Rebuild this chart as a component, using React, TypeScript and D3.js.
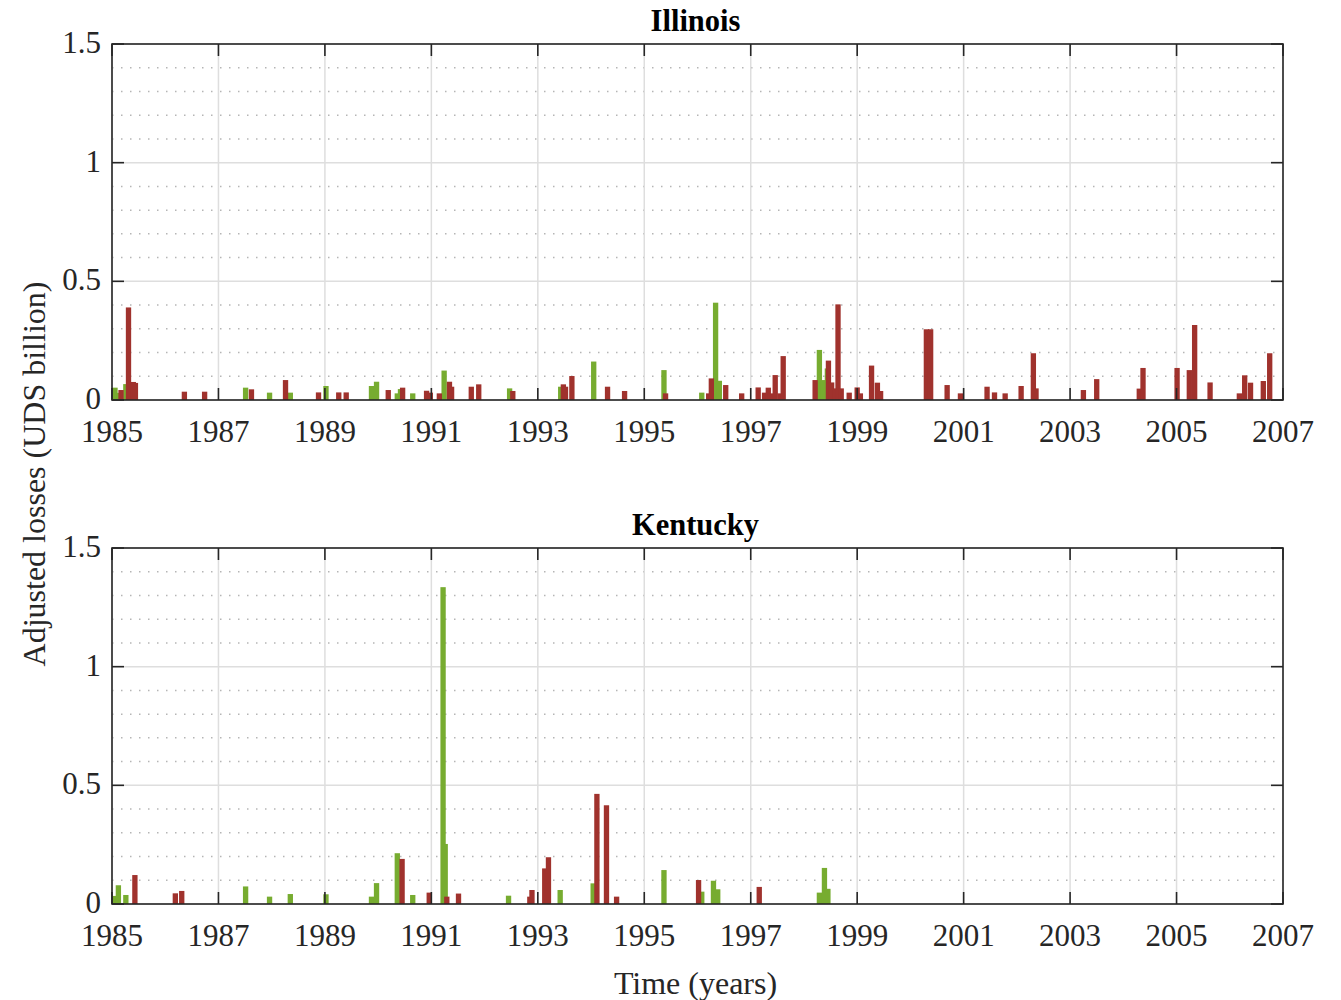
import React from "react";
import * as d3 from "d3";

// Illinois – red series (date in decimal years, loss in UDS billion)
const ilRedDates = [1985.17, 1985.31, 1985.40, 1985.44, 1986.36, 1986.74, 1987.62, 1988.26, 1988.88, 1989.26, 1989.40, 1990.19, 1990.46, 1990.91, 1990.98, 1991.15, 1991.34, 1991.38, 1991.75, 1991.89, 1992.53, 1993.48, 1993.52, 1993.64, 1994.31, 1994.63, 1995.40, 1996.21, 1996.26, 1996.53, 1996.83, 1997.14, 1997.26, 1997.33, 1997.37, 1997.46, 1997.55, 1997.61, 1998.21, 1998.46, 1998.52, 1998.59, 1998.64, 1998.70, 1998.85, 1999.00, 1999.06, 1999.27, 1999.38, 1999.44, 2000.30, 2000.38, 2000.69, 2000.94, 2001.44, 2001.58, 2001.78, 2002.08, 2002.31, 2002.36, 2003.25, 2003.50, 2004.30, 2004.37, 2005.01, 2005.24, 2005.34, 2005.63, 2006.18, 2006.28, 2006.39, 2006.63, 2006.75];
const ilRedValues = [0.042, 0.39, 0.076, 0.072, 0.035, 0.035, 0.045, 0.084, 0.032, 0.032, 0.032, 0.042, 0.052, 0.039, 0.031, 0.028, 0.077, 0.056, 0.056, 0.066, 0.038, 0.066, 0.056, 0.101, 0.056, 0.038, 0.028, 0.028, 0.091, 0.063, 0.028, 0.053, 0.031, 0.052, 0.028, 0.105, 0.028, 0.185, 0.084, 0.166, 0.074, 0.049, 0.403, 0.049, 0.031, 0.053, 0.028, 0.145, 0.073, 0.038, 0.298, 0.298, 0.063, 0.028, 0.056, 0.032, 0.028, 0.059, 0.197, 0.049, 0.042, 0.088, 0.048, 0.135, 0.135, 0.126, 0.316, 0.074, 0.028, 0.104, 0.073, 0.080, 0.197];

// Illinois – green series
const ilGreenDates = [1985.056, 1985.14, 1985.26, 1987.51, 1987.96, 1988.35, 1989.02, 1989.875, 1989.97, 1990.36, 1990.42, 1990.65, 1991.24, 1992.47, 1993.43, 1994.05, 1995.37, 1996.08, 1996.34, 1996.41, 1998.29, 1998.37, 1998.44];
const ilGreenValues = [0.052, 0.03, 0.067, 0.052, 0.031, 0.031, 0.059, 0.059, 0.077, 0.028, 0.046, 0.028, 0.124, 0.049, 0.056, 0.162, 0.126, 0.031, 0.41, 0.081, 0.211, 0.084, 0.133];

// Kentucky – red series
const kyRedDates = [1985.43, 1986.19, 1986.31, 1990.45, 1990.96, 1991.29, 1991.51, 1992.85, 1992.89, 1993.13, 1993.20, 1994.11, 1994.29, 1994.48, 1996.02, 1997.16];
const kyRedValues = [0.122, 0.045, 0.055, 0.19, 0.048, 0.031, 0.044, 0.031, 0.059, 0.15, 0.197, 0.464, 0.416, 0.031, 0.101, 0.072];

// Kentucky – green series
const kyGreenDates = [1985.05, 1985.12, 1985.26, 1987.51, 1987.96, 1988.35, 1989.02, 1989.875, 1989.97, 1990.36, 1990.65, 1991.22, 1991.26, 1992.45, 1993.42, 1994.04, 1995.37, 1996.08, 1996.30, 1996.38, 1998.29, 1998.385, 1998.45];
const kyGreenValues = [0.034, 0.079, 0.038, 0.074, 0.031, 0.042, 0.041, 0.031, 0.088, 0.214, 0.038, 1.335, 0.253, 0.035, 0.059, 0.087, 0.143, 0.052, 0.098, 0.062, 0.048, 0.152, 0.064];

const xTicks = [1985, 1987, 1989, 1991, 1993, 1995, 1997, 1999, 2001, 2003, 2005, 2007];
const yTicks = [0, 0.5, 1, 1.5];
const yMinor = [0.1, 0.2, 0.3, 0.4, 0.6, 0.7, 0.8, 0.9, 1.1, 1.2, 1.3, 1.4];
const panelTitles = ["Illinois", "Kentucky"];

const RED = "#A0322D";
const GREEN = "#77AC30";
const AXIS = "#262626";
const FONT = "'Liberation Serif', 'Times New Roman', serif";

const W = 1341;
const H = 1000;
const left = 112;
const right = 1283;
const panelTops = [44, 548];
const panelH = 356;
const barW = 0.1;

type PanelProps = {
  top: number;
  title: string;
  red: { d: number[]; v: number[] };
  green: { d: number[]; v: number[] };
};

function Panel({ top, title, red, green }: PanelProps) {
  const x = d3.scaleLinear().domain([1985, 2007]).range([left, right]);
  const y = d3.scaleLinear().domain([0, 1.5]).range([top + panelH, top]);
  const tick = 12;
  const bars = (s: { d: number[]; v: number[] }, color: string, key: string) =>
    s.d.map((dt, i) => {
      const x0 = x(dt - barW / 2);
      const x1 = x(dt + barW / 2);
      return (
        <rect
          key={key + i}
          x={x0}
          y={y(s.v[i])}
          width={x1 - x0}
          height={y(0) - y(s.v[i])}
          fill={color}
        />
      );
    });
  return (
    <g>
      {yMinor.map((t) => (
        <line
          key={"mn" + t}
          x1={left}
          x2={right}
          y1={y(t)}
          y2={y(t)}
          stroke="#b5b5b5"
          strokeWidth={1.5}
          strokeDasharray="1.5 7.5"
        />
      ))}
      {yTicks.map((t) => (
        <line key={"mj" + t} x1={left} x2={right} y1={y(t)} y2={y(t)} stroke="#dedede" strokeWidth={1.5} />
      ))}
      {xTicks.map((t) => (
        <line key={"mx" + t} x1={x(t)} x2={x(t)} y1={top} y2={top + panelH} stroke="#dedede" strokeWidth={1.5} />
      ))}
      {bars(green, GREEN, "g")}
      {bars(red, RED, "r")}
      <rect x={left} y={top} width={right - left} height={panelH} fill="none" stroke={AXIS} strokeWidth={1.6} />
      {xTicks.map((t) => (
        <g key={"xt" + t}>
          <line x1={x(t)} x2={x(t)} y1={top + panelH} y2={top + panelH - tick} stroke={AXIS} strokeWidth={1.6} />
          <line x1={x(t)} x2={x(t)} y1={top} y2={top + tick} stroke={AXIS} strokeWidth={1.6} />
          <text
            x={x(t)}
            y={top + panelH + 42}
            textAnchor="middle"
            fontFamily={FONT}
            fontSize={31}
            fill={AXIS}
          >
            {t}
          </text>
        </g>
      ))}
      {yTicks.map((t) => (
        <g key={"yt" + t}>
          <line x1={left} x2={left + tick} y1={y(t)} y2={y(t)} stroke={AXIS} strokeWidth={1.6} />
          <line x1={right} x2={right - tick} y1={y(t)} y2={y(t)} stroke={AXIS} strokeWidth={1.6} />
          <text
            x={left - 11}
            y={y(t) + 9}
            textAnchor="end"
            fontFamily={FONT}
            fontSize={31}
            fill={AXIS}
          >
            {t}
          </text>
        </g>
      ))}
      <text
        x={(left + right) / 2 - 2}
        y={top - 13}
        textAnchor="middle"
        fontFamily={FONT}
        fontWeight="bold"
        fontSize={30.5}
        fill="#000"
      >
        {title}
      </text>
    </g>
  );
}

export default function App() {
  return (
    <svg width={W} height={H} style={{ display: "block", position: "absolute", left: 0, top: 0 }}>
      <rect x={0} y={0} width={W} height={H} fill="#fff" />
      <Panel top={panelTops[0]} title={panelTitles[0]} red={{ d: ilRedDates, v: ilRedValues }} green={{ d: ilGreenDates, v: ilGreenValues }} />
      <Panel top={panelTops[1]} title={panelTitles[1]} red={{ d: kyRedDates, v: kyRedValues }} green={{ d: kyGreenDates, v: kyGreenValues }} />
      <text
        x={(left + right) / 2 - 2}
        y={994}
        textAnchor="middle"
        fontFamily={FONT}
        fontSize={32}
        fill={AXIS}
      >
        Time (years)
      </text>
      <text
        transform={`translate(45, ${(panelTops[0] + panelTops[1] + panelH) / 2}) rotate(-90)`}
        textAnchor="middle"
        fontFamily={FONT}
        fontSize={32}
        fill={AXIS}
      >
        Adjusted losses (UDS billion)
      </text>
    </svg>
  );
}
